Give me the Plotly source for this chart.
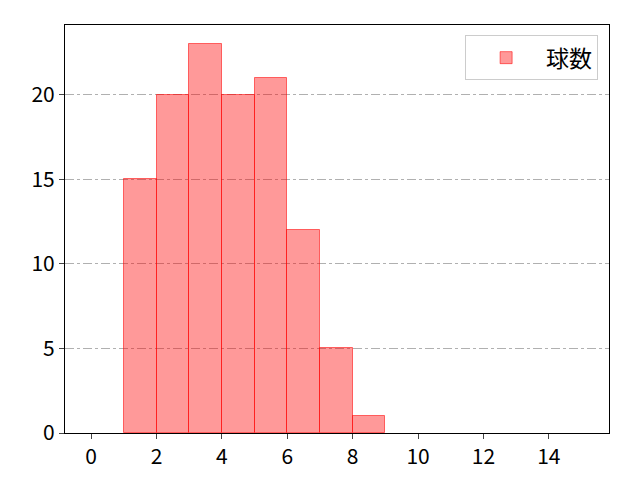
import plotly.graph_objects as go

bin_left = [1, 2, 3, 4, 5, 6, 7, 8]
counts = [15, 20, 23, 20, 21, 12, 5, 1]
x_ticks = [0, 2, 4, 6, 8, 10, 12, 14]
y_ticks = [0, 5, 10, 15, 20]

fig = go.Figure()
fig.add_trace(go.Bar(x=[b + 0.5 for b in bin_left], y=counts, width=1,
                     name="球数", showlegend=True,
                     marker=dict(color="rgba(255,0,0,0.4)",
                                 line=dict(color="rgba(255,0,0,0.55)", width=1))))

fig.update_layout(
    width=640, height=480,
    margin=dict(l=57, r=39, t=17, b=55),
    plot_bgcolor="white", paper_bgcolor="white",
    font=dict(family="Noto Sans CJK JP, DejaVu Sans", size=21, color="black"),
    bargap=0,
    legend=dict(x=0.98, y=0.975, xanchor="right", yanchor="top",
                bordercolor="#cccccc", borderwidth=1, bgcolor="white",
                font=dict(size=23), itemwidth=70),
)
fig.update_xaxes(range=[-0.8, 15.84], tickvals=x_ticks, ticks="outside", ticklen=5,
                 tickwidth=1.2, showline=True, linecolor="black", linewidth=1.2,
                 mirror=True, showgrid=False, zeroline=False)
fig.update_yaxes(range=[0, 24.14], tickvals=y_ticks, ticks="outside", ticklen=5,
                 tickwidth=1.2, showline=True, linecolor="black", linewidth=1.2,
                 mirror=True, showgrid=True, gridcolor="#b0b0b0", griddash="dashdot",
                 gridwidth=0.8, zeroline=False)

fig.write_html("out.html")
